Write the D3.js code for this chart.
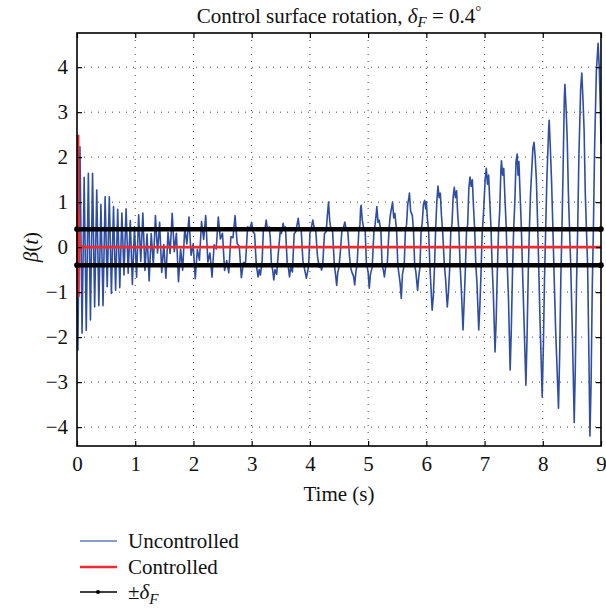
<!DOCTYPE html>
<html><head><meta charset="utf-8">
<script src="https://cdn.jsdelivr.net/npm/d3@7"></script>
<style>
body{margin:0;background:#fff}
svg{display:block}
text{font-family:"Liberation Serif","Times New Roman",serif;fill:#111}
</style>
</head><body><svg id="c" width="606" height="611"></svg>
<script>
// ---------- data ----------
const xTicks = [0,1,2,3,4,5,6,7,8,9];
const yTicks = [-4,-3,-2,-1,0,1,2,3,4];
const deltaF = 0.4;
const legendLabels = ["Uncontrolled","Controlled","±δF"];

// early, fast-oscillating part of the uncontrolled response (time, beta)
const fastT = [0.015,0.051,0.087,0.123,0.159,0.195,0.231,0.267,0.303,0.339,0.375,0.411,0.447,0.483,0.519,0.555,0.591,0.627,0.663,0.699,0.735,0.771,0.807,0.843,0.879,0.915,0.951,0.987,1.023,1.059,1.095,1.131,1.167,1.203,1.239,1.275,1.311,1.347,1.383,1.419,1.455,1.491,1.527,1.563,1.599,1.635,1.671,1.707,1.743,1.779,1.815,1.851,1.887,1.923,1.959,1.995,2.031,2.067,2.103,2.139,2.175,2.211,2.247,2.283,2.319,2.355,2.391,2.427,2.463,2.499,2.535,2.571,2.607,2.643,2.679,2.715,2.751,2.787,2.823,2.859,2.895,2.931,2.967];
const fastV = [-2.29,2.23,-1.91,1.55,-1.85,1.64,-1.62,1.64,-1.33,1.27,
 -1.30,0.95,-1.30,1.12,-0.88,1.12,-1.03,0.90,-0.96,0.84,
 -0.90,0.76,-0.62,0.85,-0.58,0.59,-0.83,0.45,-0.67,0.72,
 -0.32,0.76,-0.52,0.29,-0.75,0.30,-0.40,0.70,-0.13,0.55,
 -0.56,0.06,-0.69,0.33,-0.14,0.75,-0.10,0.31,-0.77,-0.04,
 -0.51,0.43,0.07,0.67,-0.18,0.07,-0.70,-0.05,-0.29,0.57,
 0.17,0.70,-0.33,-0.13,-0.67,0.05,-0.04,0.67,0.18,0.31,
 -0.52,-0.30,-0.57,0.23,0.21,0.70,0.08,0.02,-0.68,-0.34,
 -0.34,0.45,0.41];

// later, slow growing oscillation (time, beta)
const slowPart = [
[3.00,0.55],[3.02,0.35],[3.05,0.3],[3.08,-0.4],[3.11,-0.66],[3.13,-0.5],[3.15,-0.62],[3.18,-0.3],[3.20,0.35],[3.23,0.42],
[3.25,0.6],[3.27,0.4],[3.30,0.45],[3.32,0.2],[3.34,-0.4],[3.36,-0.5],[3.38,-0.73],[3.40,-0.5],[3.43,-0.6],[3.46,-0.1],
[3.49,0.35],[3.51,0.3],[3.54,0.53],[3.56,0.4],[3.58,0.45],[3.61,-0.35],[3.63,-0.45],[3.65,-0.66],[3.67,-0.45],[3.70,-0.55],
[3.73,0.3],[3.76,0.35],[3.78,0.5],[3.80,0.64],[3.82,0.42],[3.85,0.4],[3.88,-0.3],[3.91,-0.5],[3.94,-0.69],[3.96,-0.55],
[3.98,-0.4],[4.00,0.3],[4.02,0.4],[4.05,0.6],[4.07,0.45],[4.10,0.38],[4.13,-0.2],[4.16,-0.45],[4.18,-0.4],[4.20,-0.51],
[4.22,-0.4],[4.25,0.3],[4.28,0.35],[4.30,0.7],[4.32,1.0],[4.34,0.6],[4.36,0.4],[4.39,0.35],[4.42,-0.4],[4.44,-0.6],
[4.46,-0.85],[4.48,-0.55],[4.50,-0.45],[4.53,0.0],[4.55,0.38],[4.58,0.45],[4.60,0.56],[4.62,0.42],[4.65,0.38],[4.68,-0.2],
[4.70,-0.45],[4.72,-0.55],[4.75,-0.65],[4.77,-0.84],[4.79,-0.55],[4.81,-0.4],[4.84,0.35],[4.86,0.5],[4.87,0.85],[4.88,0.93],
[4.90,0.6],[4.92,0.45],[4.95,0.35],[4.97,-0.35],[5.00,-0.55],[5.02,-0.91],[5.04,-0.6],[5.07,-0.45],[5.10,0.35],[5.12,0.5],
[5.14,0.75],[5.15,0.9],[5.17,0.55],[5.19,0.6],[5.22,0.35],[5.24,-0.4],[5.26,-0.5],[5.28,-0.66],[5.30,-0.45],[5.33,-0.35],
[5.36,0.4],[5.38,0.7],[5.40,0.85],[5.42,1.0],[5.44,0.65],[5.46,0.75],[5.49,0.35],[5.51,-0.4],[5.53,-0.6],[5.55,-0.8],
[5.57,-1.14],[5.59,-0.6],[5.62,-0.4],[5.64,0.35],[5.66,0.5],[5.68,0.95],[5.70,1.1],[5.71,1.2],[5.73,0.8],[5.76,0.7],
[5.78,0.35],[5.80,-0.4],[5.82,-0.55],[5.85,-0.96],[5.87,-0.65],[5.89,-0.45],[5.91,0.35],[5.93,0.55],[5.95,0.95],[5.97,1.04],
[5.99,0.85],[6.00,1.0],[6.02,0.6],[6.04,0.35],[6.06,-0.4],[6.08,-0.9],[6.10,-1.4],[6.12,-1.1],[6.14,-0.45],[6.16,0.4],
[6.18,1.0],[6.20,1.36],[6.22,1.1],[6.24,1.2],[6.26,0.7],[6.28,0.35],[6.31,-0.4],[6.33,-0.7],[6.36,-1.33],[6.38,-1.0],
[6.40,-0.5],[6.42,0.35],[6.44,0.5],[6.46,1.1],[6.48,1.33],[6.50,1.1],[6.52,1.25],[6.54,0.7],[6.56,0.35],[6.58,-0.4],
[6.60,-0.9],[6.63,-1.84],[6.65,-1.2],[6.67,-0.5],[6.69,0.35],[6.71,0.5],[6.73,1.3],[6.75,1.56],[6.77,1.35],[6.79,1.5],
[6.81,0.9],[6.83,0.4],[6.85,-0.4],[6.87,-0.8],[6.90,-1.84],[6.92,-1.3],[6.94,-0.55],[6.96,0.35],[6.98,0.7],[7.01,1.5],
[7.03,1.75],[7.05,1.4],[7.07,1.6],[7.09,1.0],[7.11,0.45],[7.13,-0.4],[7.15,-1.0],[7.18,-2.33],[7.20,-1.6],[7.22,-0.5],
[7.24,0.35],[7.26,0.8],[7.28,1.7],[7.29,1.92],[7.31,1.6],[7.33,1.75],[7.35,1.1],[7.37,0.5],[7.39,-0.4],[7.41,-1.1],
[7.44,-2.73],[7.46,-1.8],[7.48,-0.55],[7.50,0.4],[7.52,1.0],[7.54,1.9],[7.56,2.07],[7.575,1.6],[7.59,1.9],[7.61,1.2],
[7.63,0.5],[7.65,-0.4],[7.67,-1.3],[7.71,-3.07],[7.73,-2.0],[7.75,-0.6],[7.77,0.4],[7.79,1.2],[7.83,2.2],[7.85,2.33],
[7.87,2.0],[7.89,1.5],[7.91,0.6],[7.93,-0.4],[7.95,-1.5],[7.99,-3.33],[8.01,-2.2],[8.03,-0.7],[8.05,0.4],[8.07,1.5],
[8.10,2.6],[8.11,2.82],[8.13,2.2],[8.15,1.5],[8.17,0.6],[8.19,-0.4],[8.22,-1.8],[8.27,-3.58],[8.29,-2.4],[8.31,-0.7],
[8.33,0.45],[8.35,1.8],[8.37,3.3],[8.38,3.62],[8.40,3.1],[8.42,2.4],[8.44,1.2],[8.46,0.4],[8.48,-0.4],[8.51,-2.0],
[8.54,-3.9],[8.56,-2.6],[8.58,-0.8],[8.60,0.45],[8.62,2.0],[8.65,3.5],[8.67,3.87],[8.69,3.3],[8.71,2.6],[8.73,1.2],
[8.75,0.4],[8.77,-0.4],[8.79,-2.2],[8.81,-4.2],[8.83,-3.0],[8.85,-0.9],[8.87,0.45],[8.89,2.2],[8.92,3.9],[8.95,4.53],
[8.97,4.0],[8.99,3.0],[9.00,2.3]
];

// controlled response (time, beta)
const controlled = [[0.012,0],[0.018,2.5],[0.024,-1.1],[0.028,0.8],[0.032,-0.5],[0.036,0.3],[0.04,-0.1],[0.06,0.02],[0.1,0],[9,0]];

// ---------- build ----------
const uncontrolled = [[0,0]].concat(fastT.map((t,i)=>[t,fastV[i]]), slowPart);

const svg = d3.select("#c");
const L=77, R=601, T=33, B=446;
const x = d3.scaleLinear().domain([0,9]).range([L,R]);
const y = d3.scaleLinear().domain([-4.42,4.76]).range([B,T]);
const FS = 21;
const blue = "#2f4ea3", red = "#ee2a2e";

svg.append("defs").append("clipPath").attr("id","clip")
  .append("rect").attr("x",L-1).attr("y",T).attr("width",R-L+2).attr("height",B-T);

// grid
const grid = svg.append("g").attr("stroke","#444").attr("stroke-width",1).attr("stroke-dasharray","1,6");
grid.selectAll(".vx").data(xTicks.filter(d=>d>0&&d<9)).join("line")
  .attr("x1",d=>x(d)).attr("x2",d=>x(d)).attr("y1",T).attr("y2",B);
grid.selectAll(".hy").data(yTicks).join("line")
  .attr("y1",d=>y(d)).attr("y2",d=>y(d)).attr("x1",L).attr("x2",R);

// series
const line = d3.line().x(d=>x(d[0])).y(d=>y(d[1]));
const plot = svg.append("g").attr("clip-path","url(#clip)");
plot.append("path").datum(uncontrolled).attr("d",line)
  .attr("fill","none").attr("stroke",blue).attr("stroke-width",1.6).attr("stroke-linejoin","round");
plot.append("path").datum(controlled).attr("d",line)
  .attr("fill","none").attr("stroke",red).attr("stroke-width",2.8);
[deltaF,-deltaF].forEach(v=>{
  svg.append("line").attr("x1",x(0)).attr("x2",x(9)).attr("y1",y(v)).attr("y2",y(v))
    .attr("stroke","#000").attr("stroke-width",4.5);
  [0,9].forEach(t=>svg.append("circle").attr("cx",x(t)).attr("cy",y(v)).attr("r",2.8).attr("fill","#000"));
});

// axes
const fmt = d=> d<0 ? "\u2212"+Math.abs(d) : String(d);
const ax = svg.append("g").attr("transform",`translate(0,${B})`)
  .call(d3.axisBottom(x).tickValues(xTicks).tickFormat(fmt).tickSizeInner(-5).tickSizeOuter(0).tickPadding(10));
const ay = svg.append("g").attr("transform",`translate(${L},0)`)
  .call(d3.axisLeft(y).tickValues(yTicks).tickFormat(fmt).tickSizeInner(-5).tickSizeOuter(0).tickPadding(9));
const at = svg.append("g").attr("transform",`translate(0,${T})`)
  .call(d3.axisTop(x).tickValues(xTicks).tickFormat("").tickSizeInner(-5).tickSizeOuter(0));
const ar = svg.append("g").attr("transform",`translate(${R},0)`)
  .call(d3.axisRight(y).tickValues(yTicks).tickFormat("").tickSizeInner(-5).tickSizeOuter(0));
[ax,ay,at,ar].forEach(g=>{
  g.select(".domain").remove();
  g.selectAll("line").attr("stroke","#000").attr("stroke-width",1.2);
  g.selectAll("text").attr("font-size",FS).attr("font-family","Liberation Serif, serif").attr("fill","#111");
});
svg.append("rect").attr("x",L).attr("y",T).attr("width",R-L).attr("height",B-T)
  .attr("fill","none").attr("stroke","#000").attr("stroke-width",1.6);

// titles
const title = svg.append("text").attr("x",(L+R)/2).attr("y",23).attr("text-anchor","middle").attr("font-size",FS);
title.append("tspan").text("Control surface rotation, ");
title.append("tspan").attr("font-style","italic").text("δ");
title.append("tspan").attr("font-style","italic").attr("font-size",FS*0.72).attr("dy",4).text("F");
title.append("tspan").attr("dy",-4).text(" = 0.4");
title.append("tspan").attr("font-size",FS*0.72).attr("dy",-7).text("°");

svg.append("text").attr("x",(L+R)/2).attr("y",501).attr("text-anchor","middle").attr("font-size",FS).text("Time (s)");

const yl = svg.append("text").attr("transform",`translate(38,${y(0)}) rotate(-90)`)
  .attr("text-anchor","middle").attr("font-size",FS);
yl.append("tspan").attr("font-style","italic").text("β");
yl.append("tspan").text("(");
yl.append("tspan").attr("font-style","italic").text("t");
yl.append("tspan").text(")");

// legend
const lg = svg.append("g");
const ly = [541,567,592];
const lcol = [blue, red, "#000"];
legendLabels.forEach((lab,i)=>{
  lg.append("line").attr("x1",80).attr("x2",117).attr("y1",ly[i]).attr("y2",ly[i])
    .attr("stroke",lcol[i]).attr("stroke-width",i===0?1.6:(i===1?2.6:1.4)).attr("opacity",i===0?0.75:1);
  const t = lg.append("text").attr("x",128).attr("y",ly[i]).attr("dy","0.33em").attr("font-size",FS);
  if(i<2) t.text(lab);
  else {
    t.append("tspan").text("±");
    t.append("tspan").attr("font-style","italic").text("δ");
    t.append("tspan").attr("font-style","italic").attr("font-size",FS*0.72).attr("dy",5).text("F");
  }
});
lg.append("circle").attr("cx",98).attr("cy",ly[2]).attr("r",2).attr("fill","#000");
</script></body></html>
